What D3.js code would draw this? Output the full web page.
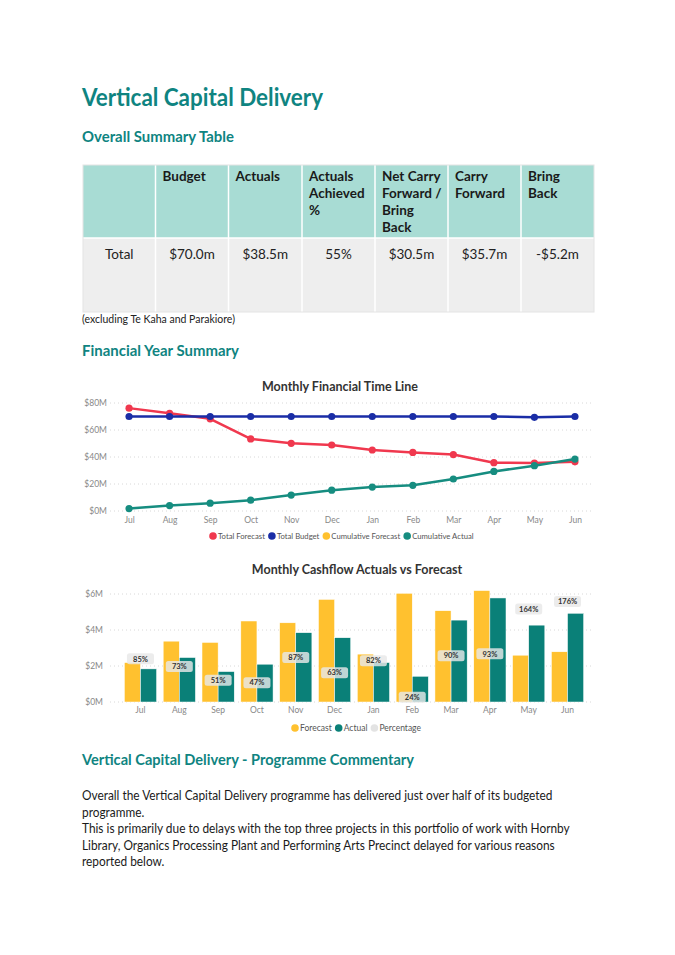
<!DOCTYPE html>
<html>
<head>
<meta charset="utf-8">
<script src="https://cdn.jsdelivr.net/npm/d3@7"></script>
<style>
  body { margin: 0; background: #fff; }
  svg { display: block; font-family: Lato, "Noto Sans", sans-serif; }
</style>
</head>
<body>
<svg id="page" width="675" height="955"></svg>
<script>
// Summary table
const tableHeaders = [[""], ["Budget"], ["Actuals"], ["Actuals", "Achieved", "%"], ["Net Carry", "Forward /", "Bring", "Back"], ["Carry", "Forward"], ["Bring", "Back"]];
const tableRow = ["Total", "$70.0m", "$38.5m", "55%", "$30.5m", "$35.7m", "-$5.2m"];

// Monthly Financial Time Line ($M)
const months = ["Jul", "Aug", "Sep", "Oct", "Nov", "Dec", "Jan", "Feb", "Mar", "Apr", "May", "Jun"];
const totalForecast = [76.2, 72.4, 68.3, 53.4, 50.1, 48.9, 45.2, 43.4, 41.8, 35.8, 35.5, 36.4];
const totalBudget = [70, 70, 70, 70, 70, 70, 70, 70, 70, 70, 69.4, 70];
const cumulativeActual = [1.8, 4.0, 5.8, 8.0, 11.8, 15.4, 17.7, 19.0, 23.7, 29.3, 33.6, 38.5];
const lineTicks = [0, 20, 40, 60, 80];

// Monthly Cashflow Actuals vs Forecast ($M)
const forecast = [2.19, 3.38, 3.31, 4.5, 4.4, 5.7, 2.66, 6.04, 5.07, 6.19, 2.6, 2.79];
const actual = [1.84, 2.47, 1.69, 2.1, 3.85, 3.57, 2.19, 1.43, 4.55, 5.78, 4.27, 4.93];
const percentage = [85, 73, 51, 47, 87, 63, 82, 24, 90, 93, 164, 176];
const barTicks = [0, 2, 4, 6];

const commentary = [
  "Overall the Vertical Capital Delivery programme has delivered just over half of its budgeted",
  "programme.",
  "This is primarily due to delays with the top three projects in this portfolio of work with Hornby",
  "Library, Organics Processing Plant and Performing Arts Precinct delayed for various reasons",
  "reported below."
];

const teal = "#0F8481";
const svg = d3.select("#page");

// Headings
svg.append("text").attr("x", 82).attr("y", 106).attr("fill", teal)
  .attr("font-size", 24).attr("font-weight", 700)
  .attr("textLength", 241).attr("lengthAdjust", "spacingAndGlyphs")
  .text("Vertical Capital Delivery");
svg.append("text").attr("x", 82).attr("y", 142).attr("fill", teal)
  .attr("font-size", 15).attr("font-weight", 700)
  .attr("textLength", 152).attr("lengthAdjust", "spacingAndGlyphs")
  .text("Overall Summary Table");

// Table
const colEdges = [83, 155.5, 228.5, 302, 375, 448, 521, 594];
const headTop = 165, headBottom = 238, bodyBottom = 312;
const table = svg.append("g");
tableHeaders.forEach(function(lines, i) {
  const x0 = colEdges[i], x1 = colEdges[i + 1];
  table.append("rect").attr("x", x0).attr("y", headTop).attr("width", x1 - x0).attr("height", headBottom - headTop)
    .attr("fill", "#A8DCD4");
  table.append("rect").attr("x", x0).attr("y", headBottom).attr("width", x1 - x0).attr("height", bodyBottom - headBottom)
    .attr("fill", "#EEEEEE");
  lines.forEach(function(line, j) {
    table.append("text").attr("x", x0 + 7).attr("y", headTop + 16 + j * 17)
      .attr("font-size", 13.5).attr("font-weight", 700).attr("fill", "#1a1a1a")
      .text(line);
  });
  table.append("text").attr("x", (x0 + x1) / 2).attr("y", headBottom + 21)
    .attr("text-anchor", "middle").attr("font-size", 13.5).attr("fill", "#222")
    .text(tableRow[i]);
});
// cell separators
colEdges.slice(1, -1).forEach(function(x) {
  table.append("line").attr("x1", x).attr("x2", x).attr("y1", headTop).attr("y2", bodyBottom)
    .attr("stroke", "#fff").attr("stroke-width", 1.5);
});
table.append("line").attr("x1", colEdges[0]).attr("x2", colEdges[7]).attr("y1", headBottom).attr("y2", headBottom)
  .attr("stroke", "#fff").attr("stroke-width", 1.5);
table.append("rect").attr("x", colEdges[0]).attr("y", headTop).attr("width", colEdges[7] - colEdges[0])
  .attr("height", bodyBottom - headTop).attr("fill", "none").attr("stroke", "#e4e4e4").attr("stroke-width", 1);

svg.append("text").attr("x", 82).attr("y", 323).attr("font-size", 10.5).attr("fill", "#222")
  .text("(excluding Te Kaha and Parakiore)");

svg.append("text").attr("x", 82).attr("y", 356).attr("fill", teal)
  .attr("font-size", 15).attr("font-weight", 700)
  .attr("textLength", 157).attr("lengthAdjust", "spacingAndGlyphs")
  .text("Financial Year Summary");

// Legend helper
function legend(g, items, x, y, size) {
  let cx = x;
  items.forEach(function(it) {
    g.append("circle").attr("cx", cx).attr("cy", y).attr("r", 3.8).attr("fill", it.color);
    const t = g.append("text").attr("x", cx + 5).attr("y", y + 3).attr("font-size", size).attr("fill", "#555").text(it.name);
    cx += 5 + t.node().getComputedTextLength() + 7;
  });
}

// Monthly Financial Time Line
const lc = svg.append("g");
const lx = d3.scalePoint().domain(months).range([110, 594]).padding(0.47);
const ly = d3.scaleLinear().domain([0, 80]).range([511, 403]);

lc.append("text").attr("x", 340).attr("y", 391).attr("text-anchor", "middle")
  .attr("font-size", 12.5).attr("font-weight", 700).attr("fill", "#333").text("Monthly Financial Time Line");

lc.append("g").selectAll("line").data(lineTicks).join("line")
  .attr("x1", 110).attr("x2", 594).attr("y1", d => ly(d)).attr("y2", d => ly(d))
  .attr("stroke", "#d8d8d8").attr("stroke-dasharray", "1,3");

const lyAxis = lc.append("g").attr("transform", "translate(107,0)")
  .call(d3.axisLeft(ly).tickValues(lineTicks).tickSize(0).tickPadding(0).tickFormat(d => "$" + d + "M"));
lyAxis.select(".domain").remove();
lyAxis.selectAll("text").attr("font-size", 8.5).attr("fill", "#888").attr("font-family", "Lato, sans-serif");

const lxAxis = lc.append("g").attr("transform", "translate(0,515)")
  .call(d3.axisBottom(lx).tickSize(0).tickPadding(0));
lxAxis.select(".domain").remove();
lxAxis.selectAll("text").attr("font-size", 8.5).attr("fill", "#888").attr("dy", "0.9em").attr("font-family", "Lato, sans-serif");

const lineSeries = [
  { name: "Total Forecast", color: "#F0384E", values: totalForecast },
  { name: "Total Budget", color: "#1A2DA6", values: totalBudget },
  { name: "Cumulative Actual", color: "#168D80", values: cumulativeActual }
];
const lineGen = d3.line().x((d, i) => lx(months[i])).y(d => ly(d));
lineSeries.forEach(function(s) {
  lc.append("path").datum(s.values).attr("d", lineGen)
    .attr("fill", "none").attr("stroke", s.color).attr("stroke-width", 2.5).attr("stroke-linejoin", "round");
  lc.append("g").selectAll("circle").data(s.values).join("circle")
    .attr("cx", (d, i) => lx(months[i])).attr("cy", d => ly(d)).attr("r", 3.6).attr("fill", s.color);
});

legend(lc, [
  { name: "Total Forecast", color: "#F0384E" },
  { name: "Total Budget", color: "#1A2DA6" },
  { name: "Cumulative Forecast", color: "#FFC12F" },
  { name: "Cumulative Actual", color: "#168D80" }
], 213, 536, 7.7);

// Monthly Cashflow Actuals vs Forecast
const bc = svg.append("g");
const bx = d3.scaleBand().domain(months).range([110, 598]).paddingInner(0.17).paddingOuter(0.37);
const bx1 = d3.scaleBand().domain(["forecast", "actual"]).range([0, bx.bandwidth()]);
const by = d3.scaleLinear().domain([0, 6]).range([702, 594]);
// secondary (hidden) percentage axis for the labels
const bp = d3.scaleLinear().domain([16.5, 188]).range([702, 594]);

bc.append("text").attr("x", 357).attr("y", 574).attr("text-anchor", "middle")
  .attr("font-size", 12.5).attr("font-weight", 700).attr("fill", "#333").text("Monthly Cashflow Actuals vs Forecast");

bc.append("g").selectAll("line").data(barTicks).join("line")
  .attr("x1", 110).attr("x2", 594).attr("y1", d => by(d)).attr("y2", d => by(d))
  .attr("stroke", "#d8d8d8").attr("stroke-dasharray", "1,3");

const byAxis = bc.append("g").attr("transform", "translate(103,0)")
  .call(d3.axisLeft(by).tickValues(barTicks).tickSize(0).tickPadding(0).tickFormat(d => "$" + d + "M"));
byAxis.select(".domain").remove();
byAxis.selectAll("text").attr("font-size", 8.5).attr("fill", "#888").attr("font-family", "Lato, sans-serif");

const bxAxis = bc.append("g").attr("transform", "translate(0,705)")
  .call(d3.axisBottom(bx).tickSize(0).tickPadding(0));
bxAxis.select(".domain").remove();
bxAxis.selectAll("text").attr("font-size", 8.5).attr("fill", "#888").attr("dy", "0.9em").attr("font-family", "Lato, sans-serif");

const groups = bc.append("g").selectAll("g").data(months).join("g")
  .attr("transform", d => "translate(" + bx(d) + ",0)");
groups.append("rect").attr("x", bx1("forecast")).attr("width", bx1.bandwidth())
  .attr("y", (d, i) => by(forecast[i])).attr("height", (d, i) => by(0) - by(forecast[i]))
  .attr("fill", "#FFC12F").attr("stroke", "#fff").attr("stroke-width", 0.5);
groups.append("rect").attr("x", bx1("actual")).attr("width", bx1.bandwidth())
  .attr("y", (d, i) => by(actual[i])).attr("height", (d, i) => by(0) - by(actual[i]))
  .attr("fill", "#0A8078").attr("stroke", "#fff").attr("stroke-width", 0.5);

const labels = bc.append("g").selectAll("g").data(percentage).join("g")
  .attr("transform", (d, i) => "translate(" + (bx(months[i]) + bx.bandwidth() / 2) + "," + bp(d) + ")");
labels.append("rect").attr("x", -13.5).attr("y", -5.5).attr("width", 27).attr("height", 11).attr("rx", 2.5)
  .attr("fill", "#E8E8E8").attr("fill-opacity", 0.82);
labels.append("text").attr("y", 2.7).attr("text-anchor", "middle")
  .attr("font-size", 7.5).attr("font-weight", 700).attr("fill", "#333").text(d => d + "%");

legend(bc, [
  { name: "Forecast", color: "#FFC12F" },
  { name: "Actual", color: "#0A8078" },
  { name: "Percentage", color: "#E3E3E3" }
], 295, 728, 8.5);

// Commentary
svg.append("text").attr("x", 82).attr("y", 765).attr("fill", teal)
  .attr("font-size", 15).attr("font-weight", 700)
  .attr("textLength", 332).attr("lengthAdjust", "spacingAndGlyphs")
  .text("Vertical Capital Delivery - Programme Commentary");

// paragraph: squeeze horizontally so the first line spans like the reference
const para = svg.append("g");
const paraText = para.selectAll("text").data(commentary).join("text")
  .attr("x", 0).attr("y", (d, i) => 800 + i * 16.6)
  .attr("font-size", 13).attr("fill", "#1a1a1a")
  .text(d => d);
const squeeze = 471 / paraText.node().getComputedTextLength();
para.attr("transform", "translate(82,0) scale(" + squeeze + ",1)");
</script>
</body>
</html>
